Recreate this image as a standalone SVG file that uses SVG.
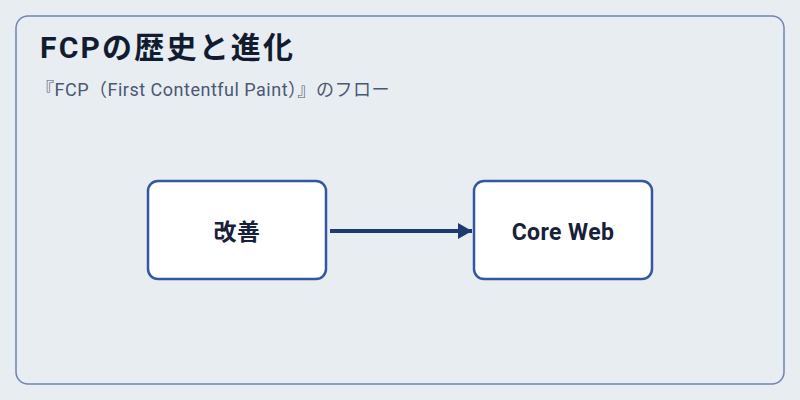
<svg xmlns="http://www.w3.org/2000/svg" width="800" height="400" viewBox="0 0 800 400">
<defs>
<style>
.t{font-family:Roboto,"Noto Sans CJK JP",sans-serif;}
.node rect{fill:#ffffff;stroke:#3358a0;stroke-width:2.5;}
.node text{font-size:23px;font-weight:700;fill:#17213a;text-anchor:middle;letter-spacing:0.4px;}
</style>
<marker id="ah" markerWidth="16" markerHeight="18" refX="14" refY="8" orient="auto" markerUnits="userSpaceOnUse">
<path d="M0,0 L14,8 L0,16 Z" fill="#1e3a70"/>
</marker>
</defs>
<rect width="800" height="400" fill="#e8edf2"/>
<rect x="16" y="16" width="768" height="368" rx="12" fill="#e8edf2" stroke="#6d85b3" stroke-width="1.5"/>
<text class="t" x="40" y="58" font-size="30" font-weight="700" fill="#111c30" letter-spacing="2.2">FCPの歴史と進化</text>
<text class="t" x="36" y="96" font-size="18" fill="#4a5872" letter-spacing="0.5">『FCP（First Contentful Paint）』のフロー</text>
<g id="connectors">
<line x1="330" y1="231" x2="472" y2="231" stroke="#1e3a70" stroke-width="4" marker-end="url(#ah)"/>
</g>
<g id="node1" class="node t">
<rect x="148" y="181" width="178" height="98" rx="10"/>
<text x="237" y="240">改善</text>
</g>
<g id="node2" class="node t">
<rect x="474" y="181" width="178" height="98" rx="10"/>
<text x="563" y="240">Core Web</text>
</g>
</svg>
